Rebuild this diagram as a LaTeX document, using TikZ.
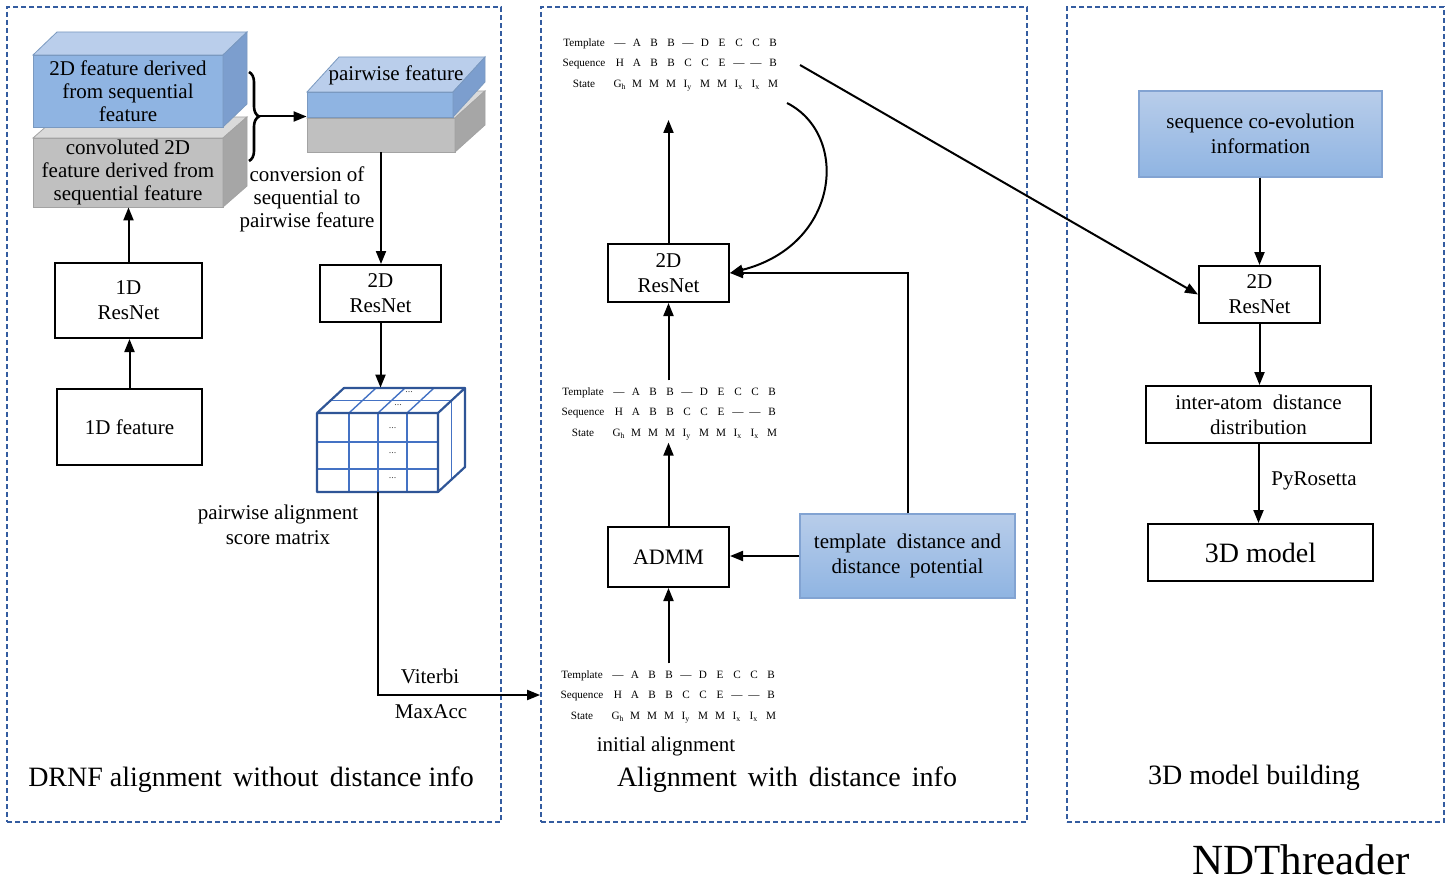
\documentclass[tikz,border=0pt]{standalone}
\usepackage{fontspec}
\setmainfont{Liberation Serif}
\usepackage{array}
\usetikzlibrary{arrows.meta,fit,decorations.pathreplacing,calc}

\newcolumntype{C}{>{\centering\arraybackslash}p{8.5pt}}

\definecolor{panelblue}{RGB}{52,92,160}
\definecolor{cubeblue}{RGB}{68,114,196}
\definecolor{cubeedge}{RGB}{47,85,151}
\definecolor{blueA}{RGB}{184,205,234}
\definecolor{blueB}{RGB}{143,180,226}
\definecolor{blueTop}{RGB}{186,206,235}
\definecolor{blueSide}{RGB}{124,158,206}
\definecolor{blueEdge}{RGB}{130,163,210}
\definecolor{grayF}{RGB}{192,192,192}
\definecolor{grayT}{RGB}{218,218,218}
\definecolor{grayS}{RGB}{166,166,166}

% slab: front x1 y1 x2 y2, depth dx dy, front/top/side colours
\newcommand{\slab}[9]{%
  \fill[#7, draw=#7!85!black, line width=0.4pt] (#1,#2) rectangle (#3,#4);
  \fill[#8, draw=#7!85!black, line width=0.4pt] (#1,#2) -- ++(#5,#6) -- ++({#3-#1},0) -- (#3,#2) -- cycle;
  \fill[#9, draw=#7!85!black, line width=0.4pt] (#3,#2) -- ++(#5,#6) -- ++(0,{#4-#2}) -- (#3,#4) -- cycle;
}

% three-row alignment table
\newcommand{\alignrows}{%
  \setlength{\tabcolsep}{0pt}%
  \begin{tabular}{>{\centering\arraybackslash}p{27.5pt}*{10}{C}}
    Template & — & A & B & B & — & D & E & C & C & B\\
    Sequence & H & A & B & B & C & C & E & — & — & B\\
    State & G\textsubscript{h} & M & M & M & I\textsubscript{y} & M & M & I\textsubscript{x} & I\textsubscript{x} & M
  \end{tabular}}

\begin{document}
\begin{tikzpicture}[x=0.5pt,y=-0.5pt,
  every node/.style={font=\fontsize{10.5}{12.5}\selectfont, inner sep=0pt},
  sz/.style 2 args={minimum width=#1pt, minimum height=#2pt},
  box/.style={draw, line width=1pt, fill=white, align=center, inner sep=0pt},
  bluebox/.style={draw=blueEdge, line width=0.6pt, top color=blueA, bottom color=blueB, align=center, inner sep=0pt},
  panel/.style={draw=panelblue, line width=0.9pt, dash pattern=on 2.6pt off 1.4pt, inner sep=0pt},
  arr/.style={line width=1pt, -{Triangle[length=6.5pt,width=5pt]}},
  txt/.style={align=center},
  ttl/.style={font=\fontsize{14}{16}\selectfont},
  alignblk/.style={inner sep=0pt, font=\fontsize{5.6}{10.25}\selectfont},
  grid/.style={draw=cubeblue, line width=0.7pt},
  dots/.style={font=\fontsize{5}{6}\selectfont, text=black!70},
]
\useasboundingbox (0,0) rectangle (1449,882);
\fill[white] (0,0) rectangle (1449,882);

% ---------- panels ----------
\node[panel, fit={(7,7)(501,822)}] (p1) {};
\node[panel, fit={(541,7)(1027,822)}] (p2) {};
\node[panel, fit={(1067,7)(1444,822)}] (p3) {};

\node[ttl] (t1) at (251,780) {DRNF alignment\hspace{0.15em} without\hspace{0.15em} distance info};
\node[ttl] (t2) at (787,780) {Alignment\hspace{0.15em} with\hspace{0.15em} distance\hspace{0.15em} info};
\node[ttl] (t3) at (1254,778) {3D model building};
\node[font=\fontsize{21.5}{24}\selectfont] (ndt) at (1301,860) {NDThreader};

% ---------- left panel: sequential to pairwise features ----------
\slab{33}{138}{223}{207}{24}{-21}{grayF}{grayT}{grayS}
\slab{33}{55}{223}{127}{24}{-23}{blueB}{blueTop}{blueSide}
\node[txt, sz={95}{36}, font=\fontsize{10.5}{11.5}\selectfont] (f2d) at (128,91)
  {2D feature derived\\from sequential\\feature};
\node[txt, sz={95}{34.5}, font=\fontsize{10.5}{11.5}\selectfont] (gbox) at (128,172.5)
  {convoluted 2D\\feature derived from\\sequential feature};

\slab{307}{118}{455}{152}{30}{-27}{grayF}{grayT}{grayS}
\slab{307}{92}{453}{117}{32}{-35}{blueB}{blueTop}{blueSide}
\node[sz={73}{12.5}] (pwf) at (380,104.5) {};
\node[sz={74}{17}] (pwg) at (381,135) {};
\node (pwtext) at (396,75) {pairwise feature};

\draw[line width=1.3pt, decorate, decoration={brace, amplitude=5pt}] (249,72) -- (249,161);
\coordinate (brtip) at (259,116.5);
\draw[arr] (brtip) -- (brtip -| pwf.west);

\node[txt, font=\fontsize{10.5}{11.5}\selectfont] (conv) at (307,199)
  {conversion of\\sequential to\\pairwise feature};

\node[box, sz={73.5}{37.5}] (rn1) at (128.5,300.5) {1D\\ResNet};
\node[box, sz={72.5}{38}] (f1d) at (129.5,427) {1D feature};
\node[box, sz={60.5}{28.5}] (rn2a) at (380.5,293.5) {2D\\ResNet};

\draw[arr] (f1d.north) -- (f1d.north |- rn1.south);
\draw[arr] (rn1.north) -- (rn1.north |- gbox.south);
\draw[arr] (pwg.south) -- (pwg.south |- rn2a.north);

% score-matrix cube
\fill[white] (317,413) -- (344,388) -- (465,388) -- (465,467) -- (438,492) -- (317,492) -- cycle;
\draw[grid] (349,413) -- (349,492) (378,413) -- (378,492) (407,413) -- (407,492);
\draw[grid] (317,442) -- (438,442) (317,469) -- (438,469);
\draw[grid] (349,413) -- (376,388) (378,413) -- (405,388) (407,413) -- (434,388);
\draw[grid] (330.5,400.5) -- (451.5,400.5);
\draw[grid] (451.5,400.5) -- (451.5,479.5);
\draw[draw=cubeedge, line width=1.1pt, line join=round]
  (317,413) rectangle (438,492)
  (317,413) -- (344,388) -- (465,388) -- (438,413)
  (465,388) -- (465,467) -- (438,492);
\node[dots] (d1) at (392.5,428) {...};
\node[dots] (d2) at (392.5,453) {...};
\node[dots] (d3) at (392.5,478) {...};
\node[dots] (d4) at (398,405) {...};
\node[dots] (d5) at (409,392) {...};
\node[fit={(317,388)(465,492)}] (cube) {};

\draw[arr] (rn2a.south) -- (rn2a.south |- cube.north);

\node[txt] (psm) at (278,524.5) {pairwise alignment\\score matrix};

\coordinate (cbot) at (378,492);
\coordinate (turn) at (378,695);
\draw[arr] (cbot) -- (turn) -- (turn -| p2.west);
\node (vit) at (430,676) {Viterbi};
\node (macc) at (431,712) {MaxAcc};

% ---------- middle panel: alignment refinement ----------
\node[alignblk] (alTop) at (669,62.5) {\alignrows};
\node[alignblk] (alMid) at (668,411.5) {\alignrows};
\node[alignblk] (alBot) at (667,694.5) {\alignrows};

\node[box, sz={60.5}{29}] (rn2m) at (668.5,273) {2D\\ResNet};
\node[box, sz={60.5}{30}, font=\fontsize{11}{13}\selectfont] (admm) at (668.5,557) {ADMM};
\node[bluebox, sz={107.5}{42}] (tdp) at (907.5,556) {template\hspace{0.25em} distance and\\distance\hspace{0.2em} potential};

\coordinate (topin) at (668.5,120);
\draw[arr] (rn2m.north) -- (topin);
\draw[arr] (rn2m.south |- alMid.north) -- (rn2m.south);
\draw[arr] (admm.north) -- (admm.north |- alMid.south);
\draw[arr] (admm.south |- alBot.north) -- (admm.south);
\draw[arr] (tdp.west) -- (tdp.west -| admm.east);
\draw[arr] (tdp.north) |- (rn2m.east);

\coordinate (cstart) at (787,103);
\draw[arr] (cstart) .. controls (850,135) and (840,245) .. (rn2m.east);

\node (initial) at (666,746) {initial alignment};

% ---------- right panel: model building ----------
\node[bluebox, sz={121.5}{43}] (sce) at (1260.5,134) {sequence co-evolution\\information};
\node[box, sz={60.5}{28.5}] (rn3) at (1259.5,294.5) {2D\\ResNet};
\node[box, sz={112.5}{28.5}] (iad) at (1258.5,414.5) {inter-atom\hspace{0.25em} distance\\distribution};
\node[box, sz={112.5}{28.5}, font=\fontsize{14}{16}\selectfont] (m3d) at (1260.5,552.5) {3D model};

\draw[arr] (rn3.north |- sce.south) -- (rn3.north);
\draw[arr] (rn3.south) -- (rn3.south |- iad.north);
\draw[arr] (iad.south) -- (iad.south |- m3d.north);
\node (pyr) at (1314,481) {PyRosetta};

\coordinate (lstart) at (800,65);
\draw[arr] (lstart) -- (rn3.west);

\end{tikzpicture}
\end{document}
